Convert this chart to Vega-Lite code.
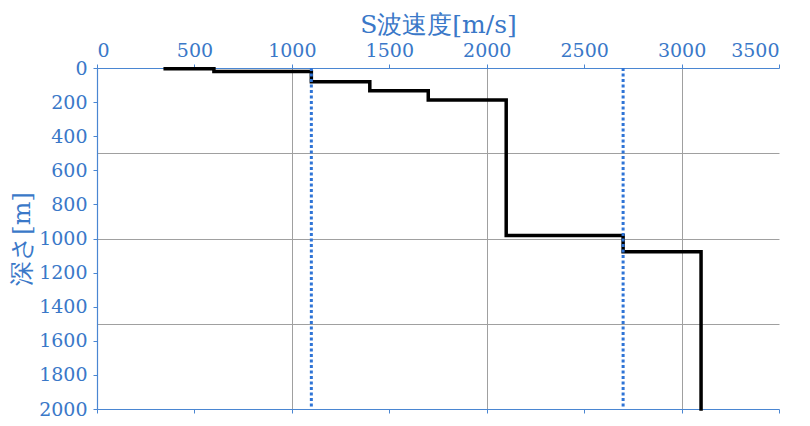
{
  "$schema": "https://vega.github.io/schema/vega-lite/v6.json",
  "width": 682,
  "height": 341,
  "autosize": "none",
  "padding": {"left": 97, "top": 68, "right": 31, "bottom": 17},
  "background": "white",
  "config": {
    "view": {"stroke": null},
    "font": "DejaVu Serif",
    "axis": {
      "labelFont": "DejaVu Serif",
      "titleFont": "DejaVu Serif",
      "labelColor": "#3a78c8",
      "titleColor": "#3a78c8",
      "domainColor": "#4a86d2",
      "tickColor": "#4a86d2",
      "labelFontSize": 19,
      "titleFontSize": 25,
      "titleFontWeight": "normal",
      "tickSize": 4,
      "domainWidth": 1.2,
      "format": "d"
    }
  },
  "layer": [
    {
      "data": {
        "values": [
          {"i": 1, "velocity": 350, "depth": 4},
          {"i": 2, "velocity": 600, "depth": 4},
          {"i": 3, "velocity": 600, "depth": 21},
          {"i": 4, "velocity": 1100, "depth": 21},
          {"i": 5, "velocity": 1100, "depth": 80},
          {"i": 6, "velocity": 1400, "depth": 80},
          {"i": 7, "velocity": 1400, "depth": 133},
          {"i": 8, "velocity": 1700, "depth": 133},
          {"i": 9, "velocity": 1700, "depth": 187},
          {"i": 10, "velocity": 2100, "depth": 187},
          {"i": 11, "velocity": 2100, "depth": 983},
          {"i": 12, "velocity": 2700, "depth": 983},
          {"i": 13, "velocity": 2700, "depth": 1078},
          {"i": 14, "velocity": 3100, "depth": 1078},
          {"i": 15, "velocity": 3100, "depth": 2000}
        ]
      },
      "mark": {"type": "line", "color": "black", "strokeWidth": 3.5, "strokeJoin": "miter", "strokeCap": "square", "clip": false},
      "encoding": {
        "x": {
          "field": "velocity",
          "type": "quantitative",
          "scale": {"domain": [0, 3500], "nice": false, "zero": false},
          "axis": {
            "orient": "top",
            "title": "S波速度[m/s]",
            "format": "d",
            "values": [0, 500, 1000, 1500, 2000, 2500, 3000, 3500],
            "labelPadding": 4,
            "titlePadding": 4,
            "grid": true,
            "gridColor": "#a0a0a0",
            "gridWidth": 1,
            "gridOpacity": {"condition": {"test": "datum.value % 1000 === 0 && datum.value > 0", "value": 1}, "value": 0}
          }
        },
        "y": {
          "field": "depth",
          "type": "quantitative",
          "scale": {"domain": [0, 2000], "reverse": true, "nice": false, "zero": false},
          "axis": {
            "orient": "left",
            "title": "深さ[m]",
            "format": "d",
            "values": [0, 200, 400, 600, 800, 1000, 1200, 1400, 1600, 1800, 2000],
            "labelPadding": 6,
            "titlePadding": 4,
            "grid": false
          }
        },
        "order": {"field": "i", "type": "quantitative"}
      }
    },
    {
      "data": {"values": [{"v": 1100}, {"v": 2700}]},
      "mark": {"type": "rule", "color": "#2f74d6", "strokeWidth": 3, "strokeDash": [3, 2.5]},
      "encoding": {
        "x": {
          "field": "v",
          "type": "quantitative",
          "axis": {
            "orient": "bottom",
            "labels": false,
            "title": null,
            "grid": false,
            "values": [0, 500, 1000, 1500, 2000, 2500, 3000, 3500]
          }
        },
        "y": {
          "datum": 0,
          "type": "quantitative",
          "axis": {
            "orient": "right",
            "labels": false,
            "ticks": false,
            "domain": false,
            "title": null,
            "grid": true,
            "gridColor": "#a0a0a0",
            "gridWidth": 1,
            "values": [500, 1000, 1500]
          }
        },
        "y2": {"datum": 2000}
      }
    }
  ],
  "resolve": {"axis": {"x": "independent", "y": "independent"}}
}
